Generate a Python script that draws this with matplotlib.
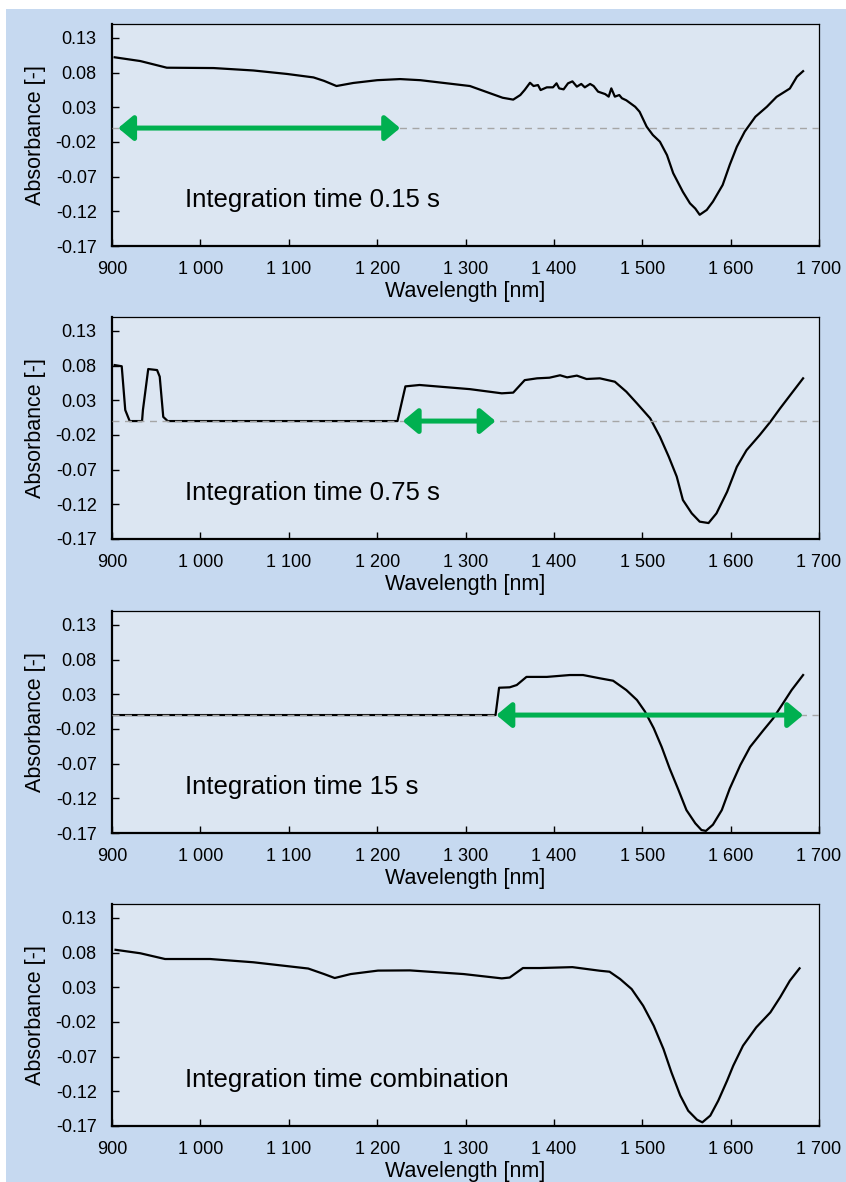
import matplotlib
matplotlib.use('Agg')
import matplotlib.pyplot as plt
from matplotlib.patches import Rectangle

plt.rcParams['font.family'] = ['Liberation Sans', 'DejaVu Sans']
plt.rcParams['axes.unicode_minus'] = False

# ---- data ----
wl_015 = [903, 932, 962, 1015, 1060, 1098, 1128, 1140, 1154, 1173, 1200, 1226, 1249, 1305,
          1342, 1354, 1362, 1367, 1373, 1377, 1382, 1385, 1392, 1399, 1403, 1406, 1411,
          1416, 1421, 1426, 1431, 1435, 1441, 1445, 1450, 1458, 1462, 1465, 1469, 1474,
          1477, 1482, 1492, 1497, 1505, 1512, 1520, 1528, 1535, 1546, 1554, 1560, 1565,
          1573, 1580, 1591, 1599, 1607, 1616, 1628, 1641, 1652, 1667, 1675, 1682]
abs_015 = [0.102, 0.0966, 0.087, 0.0865, 0.083, 0.078, 0.073, 0.068, 0.0606, 0.065, 0.069,
           0.0706, 0.069, 0.0606, 0.0437, 0.041, 0.0476, 0.055, 0.0653, 0.0606, 0.062,
           0.0548, 0.0587, 0.0587, 0.0645, 0.0572, 0.0558, 0.0645, 0.0673, 0.0597, 0.0636,
           0.0587, 0.0636, 0.0606, 0.0525, 0.049, 0.0453, 0.0572, 0.0453, 0.0476, 0.043,
           0.040, 0.0307, 0.0235, 0.002, -0.010, -0.0197, -0.039, -0.065, -0.092, -0.1085,
           -0.116, -0.125, -0.118, -0.106, -0.082, -0.053, -0.027, -0.005, 0.0163, 0.0307,
           0.045, 0.057, 0.074, 0.082]

wl_075 = [903, 911, 915, 920, 934, 935, 941, 951, 954, 958, 963, 1223, 1232, 1248, 1305,
          1341, 1354, 1367, 1381, 1395, 1407, 1415, 1426, 1437, 1452, 1469, 1482, 1494,
          1509, 1520, 1530, 1539, 1546, 1556, 1565, 1575, 1584, 1596, 1607, 1618, 1633,
          1645, 1656, 1669, 1682]
abs_075 = [0.0807, 0.079, 0.0159, 0.0, 0.0, 0.016, 0.075, 0.0735, 0.064, 0.006, 0.0, 0.0,
           0.050, 0.052, 0.046, 0.040, 0.041, 0.059, 0.0616, 0.0625, 0.066, 0.063, 0.0655,
           0.0606, 0.0616, 0.0567, 0.0423, 0.0255, 0.0039, -0.0226, -0.0514, -0.080,
           -0.1138, -0.133, -0.145, -0.147, -0.133, -0.102, -0.066, -0.042, -0.020, -0.001,
           0.0183, 0.040, 0.0616]

wl_15 = [900, 1334, 1338, 1350, 1358, 1369, 1392, 1418, 1433, 1452, 1467, 1482, 1494, 1503,
         1513, 1522, 1531, 1541, 1550, 1560, 1567, 1572, 1580, 1590, 1599, 1611, 1622, 1637,
         1648, 1658, 1669, 1682]
abs_15 = [0.0, 0.0, 0.0394, 0.040, 0.0433, 0.055, 0.055, 0.0577, 0.0577, 0.053, 0.0495,
          0.036, 0.0217, 0.0052, -0.019, -0.046, -0.077, -0.108, -0.137, -0.156, -0.1657,
          -0.167, -0.158, -0.137, -0.106, -0.072, -0.046, -0.022, -0.005, 0.0144, 0.036,
          0.0577]

wl_comb = [904, 932, 960, 1011, 1060, 1122, 1140, 1152, 1170, 1201, 1237, 1298, 1341, 1350,
           1365, 1384, 1421, 1452, 1463, 1475, 1488, 1501, 1513, 1524, 1533, 1543, 1552,
           1562, 1568, 1577, 1586, 1596, 1603, 1614, 1629, 1645, 1656, 1667, 1678]
abs_comb = [0.084, 0.079, 0.0707, 0.0707, 0.066, 0.057, 0.049, 0.0433, 0.049, 0.054, 0.0543,
            0.049, 0.0428, 0.044, 0.0577, 0.0577, 0.059, 0.0538, 0.0524, 0.0418, 0.0274,
            0.0034, -0.0255, -0.059, -0.0926, -0.126, -0.148, -0.161, -0.1647, -0.155,
            -0.1335, -0.1047, -0.083, -0.0543, -0.0278, -0.0062, 0.0155, 0.0394, 0.0573]

panel_labels = ['Integration time 0.15 s', 'Integration time 0.75 s',
                'Integration time 15 s', 'Integration time combination']
# wavelength range used from each integration time (green arrows)
arrow_ranges = [(907, 1226), (1229, 1334), (1335, 1682), None]

xticks = [900, 1000, 1100, 1200, 1300, 1400, 1500, 1600, 1700]
xtick_labels = ['900', '1 000', '1 100', '1 200', '1 300', '1 400', '1 500', '1 600', '1 700']
yticks = [0.13, 0.08, 0.03, -0.02, -0.07, -0.12, -0.17]
ytick_labels = ['0.13', '0.08', '0.03', '-0.02', '-0.07', '-0.12', '-0.17']

series = [(wl_015, abs_015), (wl_075, abs_075), (wl_15, abs_15), (wl_comb, abs_comb)]

OUTER = '#c6d9f0'
INNER = '#dce6f2'
GREEN = '#00b050'

fig = plt.figure(figsize=(8.46, 11.82), dpi=100, facecolor='white')
fig.patches.append(Rectangle((6 / 846, 0), 1, 1 - 9 / 1182, transform=fig.transFigure,
                             facecolor=OUTER, edgecolor='none', zorder=-10))

tops_px = [24, 317, 611, 904]
for i, (wl, ab) in enumerate(series):
    bottom = 1 - (tops_px[i] + 222) / 1182
    ax = fig.add_axes([112 / 846, bottom, 707 / 846, 222 / 1182])
    ax.set_facecolor(INNER)
    ax.plot(wl, ab, color='black', lw=1.6, zorder=3, solid_joinstyle='round')
    if arrow_ranges[i] is not None:
        ax.axhline(0, color='#a6a6a6', lw=1.0, ls=(0, (5, 4)), zorder=4)
        x0, x1 = arrow_ranges[i]
        ax.annotate('', xy=(x1, 0), xytext=(x0, 0),
                    arrowprops=dict(arrowstyle='<|-|>,head_length=0.9,head_width=0.75',
                                    color=GREEN, lw=3.6, mutation_scale=10,
                                    shrinkA=0, shrinkB=0), zorder=5)
    ax.text(983, -0.103, panel_labels[i], fontsize=18.5, va='center', ha='left')
    ax.set_xlim(900, 1700)
    ax.set_ylim(-0.17, 0.15)
    ax.set_xticks(xticks)
    ax.set_xticklabels(xtick_labels)
    ax.set_yticks(yticks)
    ax.set_yticklabels(ytick_labels)
    ax.tick_params(direction='in', length=5, width=1, labelsize=13)
    ax.tick_params(axis='x', pad=11)
    ax.tick_params(axis='y', pad=11)
    for s in ['left', 'bottom']:
        ax.spines[s].set_linewidth(1.6)
    for s in ['top', 'right']:
        ax.spines[s].set_linewidth(0.9)
    ax.set_xlabel('Wavelength [nm]', fontsize=15.5, labelpad=2)
    ax.set_ylabel('Absorbance [-]', fontsize=15.5, labelpad=7)

fig.savefig('out.png', dpi=100, facecolor=fig.get_facecolor())
